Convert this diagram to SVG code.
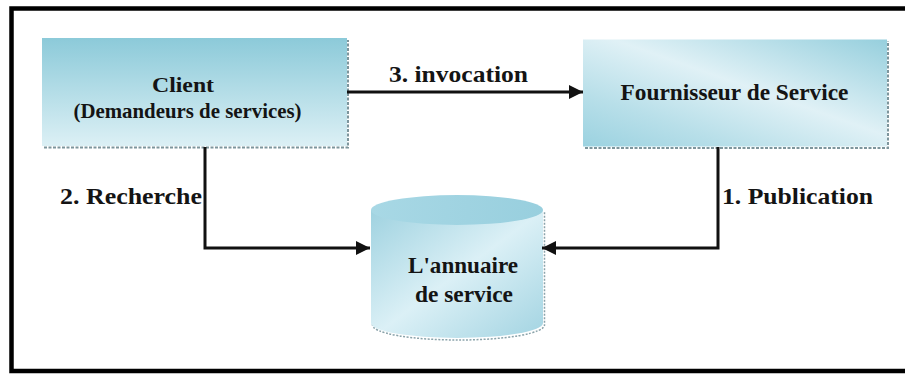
<svg xmlns="http://www.w3.org/2000/svg" width="905" height="374" viewBox="0 0 905 374">
  <defs>
    <linearGradient id="gClient" x1="0" y1="0" x2="0" y2="1">
      <stop offset="0" stop-color="#8ccad9"/>
      <stop offset="1" stop-color="#dcf0f5"/>
    </linearGradient>
    <linearGradient id="gProv" x1="0" y1="1" x2="1" y2="0">
      <stop offset="0" stop-color="#9bd2e0"/>
      <stop offset="0.25" stop-color="#b8dfe9"/>
      <stop offset="0.55" stop-color="#e0f1f6"/>
      <stop offset="1" stop-color="#96cfdd"/>
    </linearGradient>
    <linearGradient id="gCylBody" x1="0" y1="0" x2="1" y2="1">
      <stop offset="0" stop-color="#9fd2e0"/>
      <stop offset="0.5" stop-color="#dbf0f6"/>
      <stop offset="1" stop-color="#a3d4e2"/>
    </linearGradient>
    <linearGradient id="gCylTop" x1="0" y1="0" x2="1" y2="0">
      <stop offset="0" stop-color="#a8d8e5"/>
      <stop offset="1" stop-color="#98cfde"/>
    </linearGradient>
    <marker id="arr" viewBox="0 0 14 14" refX="14" refY="7" markerWidth="14" markerHeight="14" markerUnits="userSpaceOnUse" orient="auto">
      <path d="M0,0 L14,7 L0,14 Z" fill="#111"/>
    </marker>
  </defs>
  <style>
    .lbl { font-family: "Liberation Serif", "Times New Roman", serif; font-weight: bold; fill: #141414; }
    .conn { fill: none; stroke: #111; stroke-width: 3; }
    .shadow { stroke: #7d959c; stroke-width: 2; stroke-dasharray: 3 1.5; fill: none; }
  </style>

  <rect x="0" y="0" width="905" height="374" fill="#ffffff"/>
  <rect id="frame" x="11.5" y="8.5" width="900" height="362.5" fill="none" stroke="#000" stroke-width="4.5"/>

  <g id="client">
    <path class="shadow" d="M44,147.5 H348 V40"/>
    <rect x="42" y="38" width="305" height="108" fill="url(#gClient)"/>
    <text class="lbl" x="183" y="92" font-size="21" text-anchor="middle" textLength="62" lengthAdjust="spacingAndGlyphs">Client</text>
    <text class="lbl" x="187.5" y="118" font-size="21" text-anchor="middle" textLength="228" lengthAdjust="spacingAndGlyphs">(Demandeurs de services)</text>
  </g>

  <g id="fournisseur">
    <path class="shadow" d="M585,148 H888 V41"/>
    <rect x="583" y="39.5" width="304" height="107" fill="url(#gProv)"/>
    <text class="lbl" x="734.5" y="100" font-size="23" text-anchor="middle" textLength="228" lengthAdjust="spacingAndGlyphs">Fournisseur de Service</text>
  </g>

  <g id="annuaire">
    <path d="M371,210 V323 A86,15 0 0 0 543,323 V210" fill="none" stroke="#8aa3aa" stroke-width="1.5" stroke-dasharray="2 1.5" transform="translate(1.5,2)"/>
    <path d="M371,210 V323 A86,15 0 0 0 543,323 V210 Z" fill="url(#gCylBody)"/>
    <ellipse cx="457" cy="210" rx="86" ry="15" fill="url(#gCylTop)"/>
    <text class="lbl" x="463" y="273" font-size="23" text-anchor="middle" textLength="110" lengthAdjust="spacingAndGlyphs">L'annuaire</text>
    <text class="lbl" x="464" y="301.5" font-size="23" text-anchor="middle" textLength="98" lengthAdjust="spacingAndGlyphs">de service</text>
  </g>

  <g id="connectors">
    <line class="conn" x1="347" y1="92" x2="583" y2="92" marker-end="url(#arr)"/>
    <polyline class="conn" points="205,147 205,248 370,248" marker-end="url(#arr)"/>
    <polyline class="conn" points="718,147 718,248 542,248" marker-end="url(#arr)"/>
    <text class="lbl" x="458.5" y="81.5" font-size="24" text-anchor="middle" textLength="139" lengthAdjust="spacingAndGlyphs">3. invocation</text>
    <text class="lbl" x="60" y="204" font-size="24" textLength="142" lengthAdjust="spacingAndGlyphs">2. Recherche</text>
    <text class="lbl" x="722" y="203.5" font-size="24" textLength="151" lengthAdjust="spacingAndGlyphs">1. Publication</text>
  </g>
</svg>
